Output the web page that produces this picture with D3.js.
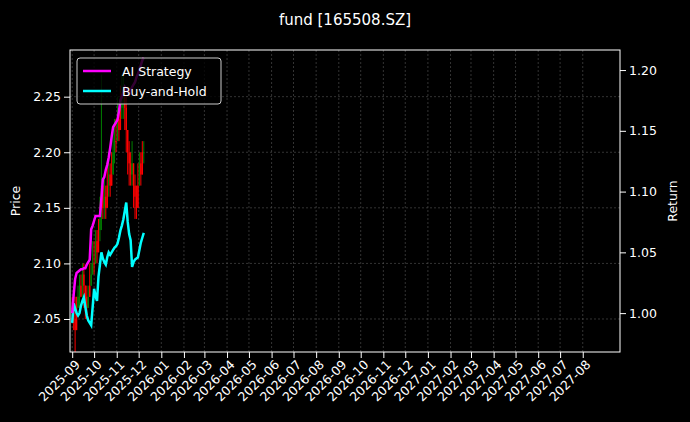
<!DOCTYPE html>
<html><head><meta charset="utf-8">
<script src="https://cdn.jsdelivr.net/npm/d3@7"></script>
<style>body{margin:0;background:#000}svg{font-family:"DejaVu Sans",sans-serif}</style>
</head><body><svg id="chart" width="690" height="422"></svg>
<script>
// price candles, one every other calendar day from 2025-09-01
var closes = [2.06,2.05,2.04,2.06,2.07, 2.07,2.08,2.09,2.08,2.07, 2.06,2.07,2.08,2.09,2.10,
  2.10,2.12,2.11,2.13,2.14, 2.17,2.15,2.16,2.15,2.17, 2.18,2.17,2.18,2.20,2.21,
  2.21,2.23,2.22,2.24,2.25, 2.25,2.24,2.22,2.20,2.19, 2.18,2.19,2.17,2.16,2.15,
  2.17,2.19,2.18,2.20,2.20];
var highs = [2.07,2.06,2.07,2.07,2.08, 2.09,2.09,2.10,2.10,2.08, 2.08,2.08,2.10,2.10,2.12,
  2.12,2.13,2.13,2.14,2.16, 2.27,2.17,2.18,2.17,2.19, 2.20,2.19,2.20,2.22,2.23,
  2.23,2.25,2.24,2.26,2.27, 2.27,2.26,2.25,2.22,2.21, 2.20,2.21,2.19,2.18,2.17,
  2.19,2.20,2.20,2.21,2.21];
var lows = [2.05,2.04,2.02,2.04,2.06, 2.06,2.07,2.07,2.06,2.05, 2.05,2.06,2.07,2.08,2.09,
  2.09,2.10,2.10,2.11,2.12, 2.13,2.14,2.14,2.14,2.15, 2.16,2.16,2.17,2.18,2.19,
  2.20,2.21,2.21,2.22,2.23, 2.23,2.22,2.20,2.18,2.17, 2.17,2.17,2.15,2.14,2.14,
  2.15,2.17,2.17,2.18,2.19];
var aiStrategy = [1.000,1.015,1.028,1.033,1.034, 1.035,1.036,1.036,1.037,1.037, 1.040,1.042,1.044,1.069,1.072,
  1.076,1.080,1.080,1.080,1.080, 1.095,1.110,1.112,1.118,1.122, 1.128,1.136,1.145,1.153,1.155,
  1.157,1.159,1.166,1.175,1.178, 1.182,1.186,1.184,1.182,1.180, 1.183,1.186,1.188,1.190,1.194,
  1.197,1.200,1.204,1.208,1.210];
var buyHold = [0.992,1.008,1.004,1.000,0.998, 1.000,1.006,1.010,1.013,1.005, 0.998,0.994,0.992,0.990,1.005,
  1.020,1.014,1.010,1.030,1.040, 1.050,1.045,1.042,1.040,1.046, 1.050,1.048,1.050,1.052,1.054,
  1.055,1.057,1.062,1.068,1.072, 1.077,1.084,1.091,1.075,1.065, 1.060,1.038,1.042,1.044,1.045,
  1.046,1.052,1.058,1.062,1.066];
var startDate = new Date(2025, 8, 1);
var dates = closes.map(function(c, i){ return d3.timeDay.offset(startDate, 2 * i); });
var tickMonths = d3.timeMonth.range(new Date(2025, 8, 1), new Date(2027, 8, 1));

var svg = d3.select("#chart");
var L = 70, R = 620, T = 50, B = 352;
var x = d3.scaleTime().domain([new Date(2025, 7, 29), new Date(2027, 8, 21)]).range([L, R]);
var yP = d3.scaleLinear().domain([2.0203, 2.292]).range([B, T]);
var yR = d3.scaleLinear().domain([0.968, 1.2165]).range([B, T]);

svg.append("rect").attr("width", 690).attr("height", 422).attr("fill", "#000");
svg.append("text").attr("x", 345).attr("y", 25).attr("text-anchor", "middle")
  .attr("fill", "#fff").attr("font-size", 15).text("fund [165508.SZ]");

// grid
var grid = svg.append("g").attr("stroke", "#555").attr("stroke-width", 0.6).attr("stroke-dasharray", "2,2");
tickMonths.forEach(function(d){ grid.append("line").attr("x1", x(d)).attr("x2", x(d)).attr("y1", T).attr("y2", B); });
[2.05,2.10,2.15,2.20,2.25].forEach(function(v){ grid.append("line").attr("x1", L).attr("x2", R).attr("y1", yP(v)).attr("y2", yP(v)); });

var clip = svg.append("clipPath").attr("id", "clp").append("rect").attr("x", L).attr("y", T).attr("width", R - L).attr("height", B - T);
var plot = svg.append("g").attr("clip-path", "url(#clp)");

// candles
closes.forEach(function(c, i){
  var o = i ? closes[i - 1] : c;
  var col = c >= o ? "#008000" : "#ff0000";
  if (i % 3 == 0) col = "#ff0000";
  plot.append("line").attr("x1", x(dates[i])).attr("x2", x(dates[i]))
    .attr("y1", yP(highs[i])).attr("y2", yP(lows[i])).attr("stroke", col).attr("stroke-width", 1);
  plot.append("rect").attr("x", x(dates[i]) - 0.7).attr("width", 1.4)
    .attr("y", yP(Math.max(o, c))).attr("height", Math.max(1, Math.abs(yP(o) - yP(c)))).attr("fill", col);
});

var line = function(vals){ return d3.line().x(function(d, i){ return x(dates[i]); }).y(function(d){ return yR(d); })(vals); };
plot.append("path").attr("d", line(buyHold)).attr("fill", "none").attr("stroke", "#00ffff").attr("stroke-width", 2.5);
plot.append("path").attr("d", line(aiStrategy)).attr("fill", "none").attr("stroke", "#ff00ff").attr("stroke-width", 2.5);

// axes
var xAx = svg.append("g").attr("transform", "translate(0," + B + ")")
  .call(d3.axisBottom(x).tickValues(tickMonths).tickFormat(d3.timeFormat("%Y-%m")).tickSizeOuter(0));
xAx.selectAll("text").attr("transform", "rotate(-45)").attr("text-anchor", "end").attr("dx", "-0.3em").attr("dy", "0.5em");
var yAx = svg.append("g").attr("transform", "translate(" + L + ",0)")
  .call(d3.axisLeft(yP).tickValues([2.05,2.10,2.15,2.20,2.25]).tickFormat(d3.format(".2f")).tickSizeOuter(0));
var rAx = svg.append("g").attr("transform", "translate(" + R + ",0)")
  .call(d3.axisRight(yR).tickValues([1.00,1.05,1.10,1.15,1.20]).tickFormat(d3.format(".2f")).tickSizeOuter(0));
[xAx, yAx, rAx].forEach(function(a){
  a.selectAll("text").attr("fill", "#fff").attr("font-size", 12.5).attr("font-family", "DejaVu Sans");
  a.selectAll("line").attr("stroke", "#fff");
  a.select(".domain").remove();
});
svg.append("rect").attr("x", L).attr("y", T).attr("width", R - L).attr("height", B - T)
  .attr("fill", "none").attr("stroke", "#fff").attr("stroke-width", 1);

svg.append("text").attr("transform", "translate(20," + (T + B) / 2 + ") rotate(-90)").attr("text-anchor", "middle")
  .attr("fill", "#fff").attr("font-size", 12.5).text("Price");
svg.append("text").attr("transform", "translate(677," + (T + B) / 2 + ") rotate(-90)").attr("text-anchor", "middle")
  .attr("fill", "#fff").attr("font-size", 12.5).text("Return");

// legend
var lg = svg.append("g").attr("transform", "translate(77,58)");
lg.append("rect").attr("width", 144).attr("height", 46).attr("rx", 3).attr("fill", "#000").attr("fill-opacity", 0.8)
  .attr("stroke", "#ccc").attr("stroke-width", 1);
[["AI Strategy", "#ff00ff"], ["Buy-and-Hold", "#00ffff"]].forEach(function(e, i){
  lg.append("line").attr("x1", 6).attr("x2", 34).attr("y1", 13 + i * 20).attr("y2", 13 + i * 20).attr("stroke", e[1]).attr("stroke-width", 2.5);
  lg.append("text").attr("x", 45).attr("y", 17.5 + i * 20).attr("fill", "#fff").attr("font-size", 12.5).text(e[0]);
});
</script></body></html>
